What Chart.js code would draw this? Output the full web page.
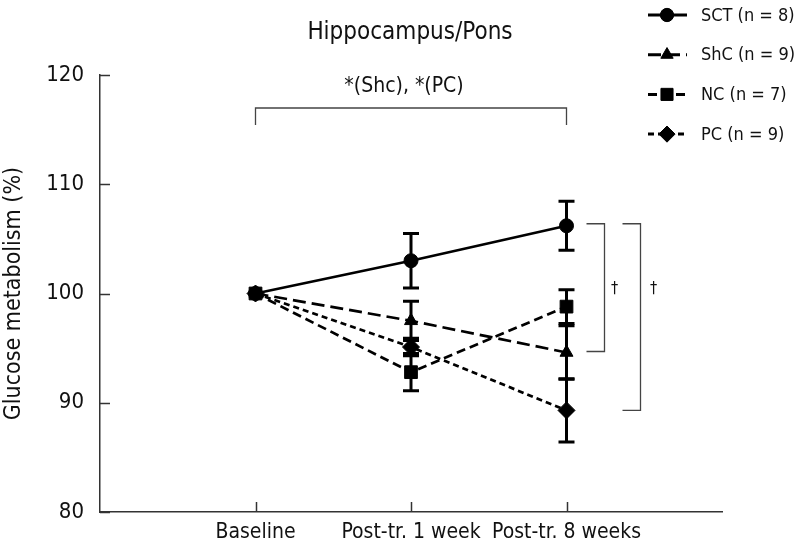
<!DOCTYPE html>
<html>
<head>
<meta charset="utf-8">
<script src="https://cdn.jsdelivr.net/npm/chart.js@4.4.1/dist/chart.umd.min.js"></script>
<style>
html, body { margin: 0; padding: 0; background: #fff; }
</style>
</head>
<body>
<canvas id="chart1" width="798" height="551"></canvas>
<script>
// values
const timepoints = ["Baseline", "Post-tr. 1 week", "Post-tr. 8 weeks"];
const yTicks = [80, 90, 100, 110, 120];
const sct = [100, 103.0, 106.2];
const sctErr = [0, 2.5, 2.25];
const shc = [100, 97.5, 94.6];
const shcErr = [0, 1.8, 2.45];
const nc = [100, 92.8, 98.8];
const ncErr = [0, 1.7, 1.55];
const pc = [100, 95.1, 89.3];
const pcErr = [0, 0.8, 2.9];

const FONT = "'Liberation Sans Narrow', 'DejaVu Sans Condensed', 'Liberation Sans', sans-serif";
const INK = "#111111";
const AXIS = "#333333";

function pts(arr) {
    return arr.map((v, i) => ({x: i, y: v}));
}

const series = [
    {label: "SCT (n = 8)", data: sct, err: sctErr, dash: [], style: "circle", r: 7},
    {label: "ShC (n = 9)", data: shc, err: shcErr, dash: [13, 6], style: "triangle", r: 7.5},
    {label: "NC (n = 7)", data: nc, err: ncErr, dash: [9, 5], style: "rect", r: 9},
    {label: "PC (n = 9)", data: pc, err: pcErr, dash: [6, 4], style: "rectRot", r: 8.5},
];

// error bars from the err arrays, through the chart scales
const errorBars = {
    id: "errorBars",
    afterDatasetsDraw(chart) {
        const ctx = chart.ctx;
        const xs = chart.scales.x, ys = chart.scales.y;
        ctx.save();
        ctx.strokeStyle = "#000";
        ctx.lineWidth = 3;
        ctx.setLineDash([]);
        series.forEach(s => {
            s.data.forEach((v, i) => {
                const e = s.err[i];
                if (!e) return;
                const x = xs.getPixelForValue(i);
                const y1 = ys.getPixelForValue(v + e);
                const y2 = ys.getPixelForValue(v - e);
                ctx.beginPath();
                ctx.moveTo(x, y1); ctx.lineTo(x, y2);
                ctx.moveTo(x - 8, y1); ctx.lineTo(x + 8, y1);
                ctx.moveTo(x - 8, y2); ctx.lineTo(x + 8, y2);
                ctx.stroke();
            });
        });
        ctx.restore();
    }
};

// inward tick marks, title, significance brackets, legend
const decorations = {
    id: "decorations",
    afterDraw(chart) {
        const ctx = chart.ctx;
        const xs = chart.scales.x, ys = chart.scales.y;
        const area = chart.chartArea;
        ctx.save();
        ctx.strokeStyle = AXIS;
        ctx.lineWidth = 1.5;
        yTicks.forEach(t => {
            const y = Math.round(ys.getPixelForValue(t)) + 0.5;
            ctx.beginPath(); ctx.moveTo(area.left, y); ctx.lineTo(area.left + 10, y); ctx.stroke();
        });
        timepoints.forEach((t, i) => {
            const x = Math.round(xs.getPixelForValue(i)) + 0.5;
            ctx.beginPath(); ctx.moveTo(x, area.bottom); ctx.lineTo(x, area.bottom - 10); ctx.stroke();
        });

        ctx.fillStyle = INK;
        ctx.textAlign = "center";
        ctx.textBaseline = "middle";
        ctx.font = "24px " + FONT;
        ctx.fillText("Hippocampus/Pons", 410, 33);

        // top bracket Baseline -> 8 weeks
        const xb = xs.getPixelForValue(0), x8 = xs.getPixelForValue(2);
        ctx.strokeStyle = "#444";
        ctx.lineWidth = 1.3;
        ctx.beginPath();
        ctx.moveTo(xb, 125); ctx.lineTo(xb, 108); ctx.lineTo(x8, 108); ctx.lineTo(x8, 125);
        ctx.stroke();
        ctx.font = "21px " + FONT;
        ctx.fillText("*(Shc), *(PC)", (xb + x8) / 2 - 7, 87);

        // right brackets at 8 weeks
        const top = ys.getPixelForValue(sct[2]) - 2;
        const b1 = ys.getPixelForValue(shc[2]) - 1;
        const b2 = ys.getPixelForValue(pc[2]);
        ctx.beginPath();
        ctx.moveTo(x8 + 20, top); ctx.lineTo(x8 + 38, top); ctx.lineTo(x8 + 38, b1); ctx.lineTo(x8 + 20, b1);
        ctx.moveTo(x8 + 56, top); ctx.lineTo(x8 + 74, top); ctx.lineTo(x8 + 74, b2); ctx.lineTo(x8 + 56, b2);
        ctx.stroke();
        ctx.font = "16px " + FONT;
        ctx.fillText("\u2020", x8 + 48, 289);
        ctx.fillText("\u2020", x8 + 87, 289);

        // legend
        series.forEach((s, k) => {
            const y = 15 + k * 39.7;
            ctx.strokeStyle = "#000";
            ctx.lineWidth = 3;
            ctx.setLineDash(s.dash);
            ctx.beginPath(); ctx.moveTo(648, y); ctx.lineTo(687, y); ctx.stroke();
            ctx.setLineDash([]);
            ctx.fillStyle = "#000";
            ctx.lineWidth = 1;
            Chart.helpers.drawPoint(ctx, {pointStyle: s.style, radius: s.r * 0.95, rotation: 0, borderWidth: 1}, 667, y);
            ctx.fillStyle = INK;
            ctx.textAlign = "left";
            ctx.font = "18px " + FONT;
            ctx.fillText(s.label, 701, y + 1);
        });
        ctx.restore();
    }
};

const chart1 = document.getElementById("chart1");
const stat1 = new Chart(chart1, {
    type: "line",
    data: {
        datasets: series.map(s => ({
            label: s.label,
            data: pts(s.data),
            borderColor: "#000000",
            backgroundColor: "#000000",
            borderWidth: 2.7,
            borderDash: s.dash,
            pointStyle: s.style,
            pointRadius: s.r,
            pointBackgroundColor: "#000000",
            pointBorderColor: "#000000",
            pointBorderWidth: 1,
            fill: false,
            tension: 0,
        })),
    },
    options: {
        responsive: false,
        animation: false,
        devicePixelRatio: 1,
        layout: {padding: {top: 75, right: 76, left: 0, bottom: 0}},
        plugins: {
            legend: {display: false},
            title: {display: false},
            tooltip: {enabled: false},
        },
        scales: {
            x: {
                type: "linear",
                min: -1,
                max: 3,
                afterBuildTicks: s => { s.ticks = timepoints.map((t, i) => ({value: i})); },
                afterFit: s => { s.height = 39; },
                grid: {display: false, drawTicks: false},
                border: {display: true, color: AXIS, width: 1.5},
                ticks: {
                    autoSkip: false,
                    maxRotation: 0,
                    padding: 8,
                    color: INK,
                    font: {size: 21, family: FONT},
                    callback: v => timepoints[v],
                },
            },
            y: {
                min: 80,
                max: 120,
                afterBuildTicks: s => { s.ticks = yTicks.map(v => ({value: v})); },
                afterFit: s => { s.width = 100; },
                grid: {display: false, drawTicks: false},
                border: {display: true, color: AXIS, width: 1.5},
                ticks: {
                    padding: 16,
                    color: INK,
                    font: {size: 22, family: FONT},
                },
                title: {
                    display: true,
                    text: "Glucose metabolism (%)",
                    color: INK,
                    font: {size: 23, family: FONT},
                    padding: {top: 0, bottom: 0},
                },
            },
        },
    },
    plugins: [errorBars, decorations],
});
</script>
</body>
</html>
